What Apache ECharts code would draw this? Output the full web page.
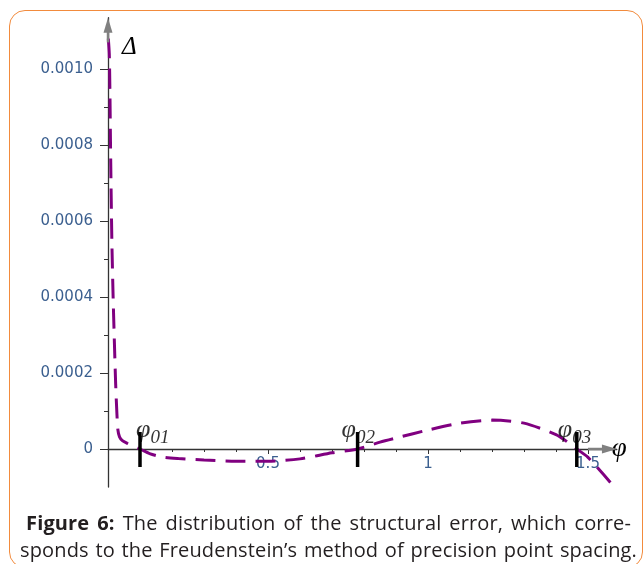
<!DOCTYPE html>
<html>
<head>
<meta charset="utf-8">
<script src="https://cdn.jsdelivr.net/npm/echarts@6/dist/echarts.min.js"></script>
<style>
  html, body { margin: 0; padding: 0; background: #fff; }
  #wrap { position: relative; width: 644px; height: 564px; overflow: hidden; }
  #chart { position: absolute; left: 0; top: 0; width: 644px; height: 564px; }
  #frame {
    position: absolute; left: 9px; top: 10px; width: 634px; height: 558px;
    box-sizing: border-box; border: 1.5px solid #f28b3d; border-radius: 16px;
  }
  .cap {
    position: absolute; font-family: "Open Sans", Lato, sans-serif; font-size: 20px;
    letter-spacing: 0.15px;
    color: #231f20; line-height: 27px; white-space: nowrap;
    text-align: justify; text-align-last: justify;
  }
</style>
</head>
<body>
<div id="wrap">
  <div id="frame"></div>
  <div id="chart"></div>
  <div class="cap" style="left:26px; top:509px; width:605px;"><b>Figure 6:</b> The distribution of the structural error, which corre-</div>
  <div class="cap" style="left:20px; top:536px; width:617px;">sponds to the Freudenstein’s method of precision point spacing.</div>
</div>
<script>
// structural error curve (phi, delta)
var phiValues = [0.001, 0.004, 0.006, 0.008, 0.012, 0.016, 0.020, 0.024, 0.028, 0.031, 0.036, 0.045, 0.06, 0.08, 0.10,
                 0.13, 0.17, 0.22, 0.30, 0.40, 0.50, 0.60, 0.70, 0.78, 0.85, 0.90, 1.00, 1.10, 1.20, 1.30, 1.40, 1.44, 1.465, 1.50, 1.57];
var deltaValues = [0.00108, 0.00104, 0.00094, 0.00079, 0.00055, 0.00040, 0.00028, 0.00017, 0.00009, 0.00005, 0.000032, 0.000022, 0.000015, 0.000007, 0,
                   -0.000012, -0.000021, -0.000025, -0.000029, -0.000032, -0.000032, -0.000026, -0.000010, 0, 0.000018, 0.000029, 0.000050, 0.000068, 0.000076, 0.000068, 0.000038, 0.000016, 0, -0.000022, -0.000088];
// precision points
var precisionPhi = [0.1, 0.78, 1.465];
var precisionNames = ['01', '02', '03'];
var markTop = 0.0000447, markBottom = -0.0000474;
// axis ticks
var yTicks = ['0', '0.0002', '0.0004', '0.0006', '0.0008', '0.0010'];
var xTicks = ['0.5', '1', '1.5'];

var chart = echarts.init(document.getElementById('chart'));

var curveData = [];
for (var i = 0; i < phiValues.length; i++) {
    curveData.push([phiValues[i], deltaValues[i]]);
}

var labelColor = '#3b5f8f';
var serif = '"Liberation Serif", "DejaVu Serif", serif';

var series = [];
series.push({
    type: 'line', xAxisIndex: 0, yAxisIndex: 0,
    data: curveData, showSymbol: false, symbol: 'none',
    smooth: 0.25,
    lineStyle: { color: '#800080', width: 3, type: [20, 10] },
    z: 5
});

// black marks at the precision points
for (var k = 0; k < precisionPhi.length; k++) {
    series.push({
        type: 'line', xAxisIndex: 0, yAxisIndex: 0, symbol: 'none',
        data: [[precisionPhi[k], markBottom], [precisionPhi[k], markTop]],
        lineStyle: { color: '#000', width: 3.5 },
        z: 6
    });
}

// labels phi01, phi02, phi03
var labelShift = [[-4, -32], [-16, -32], [-19, -32]];
series.push({
    type: 'scatter', xAxisIndex: 0, yAxisIndex: 0, symbolSize: 0,
    data: precisionPhi.map(function (p, idx) {
        return {
            value: [p, 0],
            label: { position: labelShift[idx] }
        };
    }),
    label: {
        show: true,
        formatter: function (pr) { return '{p|φ}{s|' + precisionNames[pr.dataIndex] + '}'; },
        rich: {
            p: { fontFamily: serif, fontStyle: 'italic', fontSize: 26, color: '#000', verticalAlign: 'bottom', padding: [0, 0, 4, 0] },
            s: { fontFamily: serif, fontStyle: 'italic', fontSize: 19, color: '#000', verticalAlign: 'bottom' }
        }
    },
    silent: true,
    z: 7
});

// grey axis arrows
series.push({
    type: 'line', xAxisIndex: 0, yAxisIndex: 0, clip: false,
    data: [{ value: [0, 0.00107], symbol: 'none' },
           { value: [0, 0.001115], symbol: 'triangle', symbolSize: [9, 15] }],
    lineStyle: { color: '#808080', width: 2.5 },
    itemStyle: { color: '#808080' },
    z: 8
});
series.push({
    type: 'line', xAxisIndex: 0, yAxisIndex: 0, clip: false,
    data: [{ value: [1.5, 0], symbol: 'none' },
           { value: [1.567, 0], symbol: 'triangle', symbolSize: [9, 15], symbolRotate: -90 }],
    lineStyle: { color: '#808080', width: 2.5 },
    itemStyle: { color: '#808080' },
    z: 8
});

var option = {
    animation: false,
    grid: [
        { left: 108, right: 27.2, top: 17.7, bottom: 77 },
        { left: 108, right: 56, top: 69, bottom: 115 }
    ],
    xAxis: [
        {
            gridIndex: 0, type: 'value', min: 0, max: 1.59,
            axisLine: { show: true, onZero: true, lineStyle: { color: '#333', width: 1.3 } },
            axisTick: { show: false }, axisLabel: { show: false }, splitLine: { show: false },
            name: 'φ', nameLocation: 'end', nameGap: -5,
            nameTextStyle: { fontFamily: serif, fontStyle: 'italic', fontSize: 27, color: '#000',
                             align: 'left', verticalAlign: 'middle', padding: [0, 0, 18, 0] }
        },
        {
            gridIndex: 1, type: 'value', min: 0, max: 1.5, interval: 0.5,
            axisLine: { show: false },
            axisTick: { show: true, length: 5, lineStyle: { color: '#333' } },
            minorTick: { show: true, splitNumber: 5, length: 3, lineStyle: { color: '#333' } },
            splitLine: { show: false },
            axisLabel: {
                margin: 8, fontFamily: 'DejaVu Sans', fontSize: 15, color: labelColor,
                formatter: function (v) { var s = String(+v.toFixed(1)); return xTicks.indexOf(s) >= 0 ? s : ''; }
            }
        }
    ],
    yAxis: [
        {
            gridIndex: 0, type: 'value', min: -0.0001, max: 0.001135,
            axisLine: { show: true, onZero: true, lineStyle: { color: '#333', width: 1.3 } },
            axisTick: { show: false }, axisLabel: { show: false }, splitLine: { show: false },
            name: 'Δ', nameLocation: 'end', nameGap: -17,
            nameTextStyle: { fontFamily: serif, fontStyle: 'italic', fontSize: 25, color: '#000',
                             align: 'left', verticalAlign: 'top', padding: [0, 0, 0, 14] }
        },
        {
            gridIndex: 1, type: 'value', min: 0, max: 0.001, interval: 0.0002,
            axisLine: { show: false },
            axisTick: { show: true, length: 8, lineStyle: { color: '#333' } },
            minorTick: { show: true, splitNumber: 2, length: 4, lineStyle: { color: '#333' } },
            splitLine: { show: false },
            axisLabel: {
                margin: 15, fontFamily: 'DejaVu Sans', fontSize: 15, color: labelColor,
                formatter: function (v) { return yTicks[Math.round(v / 0.0002)]; }
            }
        }
    ],
    series: series
};

chart.setOption(option);
</script>
</body>
</html>
